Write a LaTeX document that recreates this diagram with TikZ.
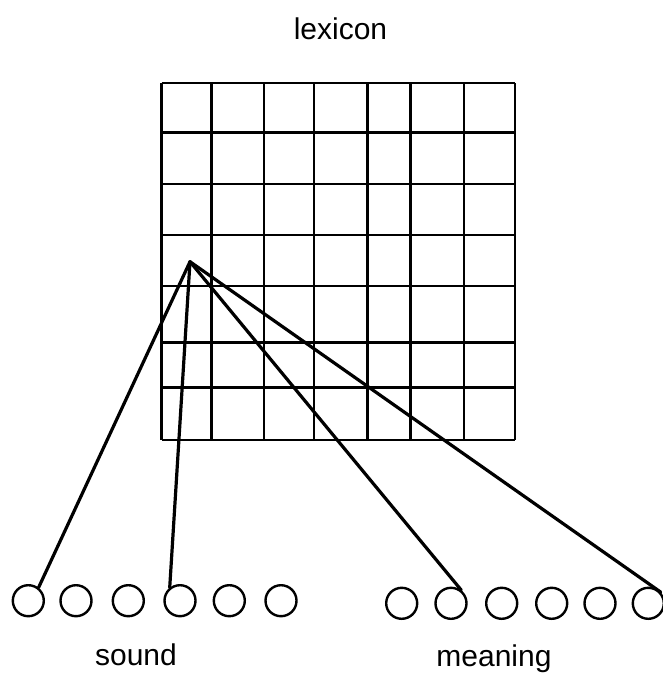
\documentclass[tikz,border=0pt]{standalone}
\usepackage{fontspec}
\setmainfont{Liberation Sans}
\begin{document}
\begin{tikzpicture}[x=1pt,y=-1pt,
  gridline/.style={line width=2.6pt},
  unit/.style={circle,draw,line width=2.4pt,minimum size=31pt,inner sep=0pt},
  conn/.style={line width=3.2pt,line cap=round,line join=round},
  lbl/.style={font=\fontsize{30}{32}\selectfont,anchor=base,inner sep=0pt}]
\useasboundingbox (0,0) rectangle (663,677);
% grid (lexicon)
\foreach \x in {161.7,211.7,264,314,367.7,410.7,464,515}
  \draw[gridline] (\x,83) -- (\x,440);
\foreach \y in {83,132.7,184,235,286,342.7,387.7,440}
  \draw[gridline] (161.7,\y) -- (515,\y);
% labels
\node[lbl] (lex) at (340.5,40) {lexicon};
\node[lbl] (snd) at (136,665) {sound};
\node[lbl] (mng) at (494,666) {meaning};
% units
\foreach \i/\x in {1/28.3,2/76,3/128.3,4/180,5/229.3,6/281}
  \node[unit] (s\i) at (\x,600.7) {};
\foreach \i/\x in {1/401.7,2/451,3/501.7,4/551.7,5/600,6/648.3}
  \node[unit] (m\i) at (\x,603.3) {};
% connectors
\coordinate (p) at (190,261.7);
\draw[conn] (p) -- (s1.52);
\draw[conn] (p) -- (s4.128);
\draw[conn] (p) -- (m2.52);
\draw[conn] (p) -- (m6.42);
\end{tikzpicture}
\end{document}
